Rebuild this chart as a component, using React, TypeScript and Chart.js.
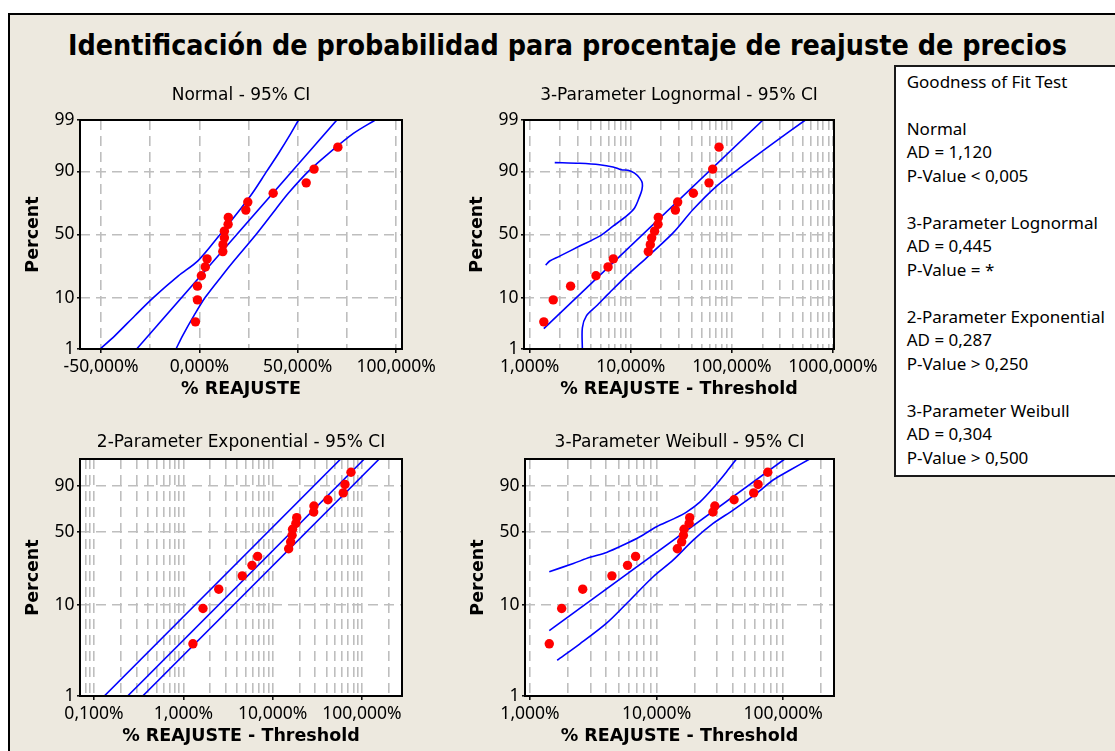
import React, { useEffect, useLayoutEffect, useRef } from 'react';
import { Chart, registerables, LinearScale } from 'chart.js';

Chart.register(...registerables);

// ---------------- DATA ----------------
const plotPercents = [3.8, 9.2, 14.7, 20.1, 25.5, 31.0, 36.4, 41.8, 47.3, 52.7, 58.2, 63.6, 69.0, 74.5, 79.9, 85.3, 90.8, 96.2];

// Normal panel (% REAJUSTE)
const normalValues = [-2.0, -1.0, -1.0, 1.0, 3.0, 3.9, 11.9, 12.0, 12.7, 12.7, 14.6, 14.7, 23.6, 24.6, 37.5, 54.3, 58.3, 70.4];
const normalFitValues = [-31.9, 69.9];
const normalFitPercents = [1, 99];
const normalBandPercents = [1, 2, 5, 10, 20, 30, 50, 70, 80, 90, 95, 98, 99];
const normalUpperBandValues = [-50.5, -42.9, -32.7, -23.4, -10.7, -0.5, 10.5, 21.0, 27.0, 34.2, 40.2, 46.5, 50.4];
const normalLowerBandValues = [-11.9, -8.5, -2.7, 2.9, 11.4, 17.8, 28.8, 39.0, 45.3, 55.4, 65.6, 78.3, 89.4];

// 3-Parameter Lognormal panel (% REAJUSTE - Threshold)
const lognormalValues = [1.38, 1.71, 2.54, 4.53, 5.96, 6.72, 14.9, 15.6, 16.1, 17.2, 18.6, 18.7, 27.6, 29.1, 41.6, 59.4, 64.6, 74.6];
const lognormalFitValues = [1.38, 203];
const lognormalFitPercents = [2.8, 99];
const lognormalUpperValues = [1.44, 1.58, 1.98, 3.12, 4.92, 6.67, 9.04, 10.9, 12.25, 12.9, 13.0, 12.25, 10.9, 9.39, 8.07, 6.67, 4.92, 3.12, 1.77];
const lognormalUpperPercents = [26.7, 29.5, 33.0, 40.7, 48.7, 56.7, 64.5, 70.5, 78.1, 81.9, 85.2, 87.4, 89.4, 90.4, 90.6, 91.5, 92.2, 92.6, 92.8];
const lognormalLowerValues = [3.32, 3.32, 3.64, 4.57, 6.18, 9.04, 14.3, 26.2, 41.3, 70.2, 119, 255, 533];
const lognormalLowerPercents = [1, 2.9, 4.9, 7.3, 11.9, 19.9, 31.8, 51.3, 69.4, 83.6, 91.1, 96.8, 99];

// 2-Parameter Exponential panel
const exponentialValues = [1.28, 1.66, 2.49, 4.57, 5.87, 6.79, 15.1, 15.9, 16.5, 16.7, 18.2, 18.6, 28.8, 29.0, 41.6, 61.7, 64.5, 75.3];
const exponentialLinePercents = [1, 99];
const exponentialUpperValues = [0.1305, 57.7];
const exponentialFitValues = [0.238, 106.2];
const exponentialLowerValues = [0.351, 156];

// 3-Parameter Weibull panel
const weibullValues = [1.42, 1.78, 2.61, 4.44, 5.90, 6.83, 14.6, 15.8, 16.3, 16.5, 18.1, 18.3, 27.9, 28.9, 41.0, 58.6, 63.5, 75.7];
const weibullFitValues = [1.42, 103];
const weibullFitPercents = [5.3, 99];
const weibullUpperValues = [1.42, 2.20, 2.98, 4.03, 5.46, 7.39, 10.0, 13.5, 17.25, 22.0, 28.0, 35.7, 42.8];
const weibullUpperPercents = [22.1, 26.6, 30.4, 33.7, 39.2, 46.0, 55.0, 62.2, 68.9, 77.9, 88.6, 96.3, 99.0];
const weibullLowerValues = [1.64, 2.48, 4.03, 5.80, 9.41, 13.5, 19.5, 28.0, 40.3, 61.6, 83.4, 112.9, 162.4];
const weibullLowerPercents = [2.5, 3.8, 6.4, 10.4, 19.7, 28.6, 43.2, 58.1, 70.7, 84.9, 93.1, 96.8, 99.0];

// Tick values and labels
const normalYTicks = [1, 10, 50, 90, 99];
const normalYLabels = ['1', '10', '50', '90', '99'];
const weibullYTicks = [1, 10, 50, 90];
const weibullYLabels = ['1', '10', '50', '90'];

const normalXTicks = [-50, -25, 0, 25, 50, 75, 100];
const normalXLabelValues = [-50, 0, 50, 100];
const normalXLabels = ['-50,000%', '0,000%', '50,000%', '100,000%'];

const lognormalXTicks = [1, 2, 3, 4, 5, 6, 7, 8, 9, 10, 20, 30, 40, 50, 60, 70, 80, 90, 100, 200, 300, 400, 500, 600, 700, 800, 900, 1000];
const lognormalXLabelValues = [1, 10, 100, 1000];
const lognormalXLabels = ['1,000%', '10,000%', '100,000%', '1000,000%'];

const exponentialXTicks = [0.08, 0.09, 0.1, 0.2, 0.3, 0.4, 0.5, 0.6, 0.7, 0.8, 0.9, 1, 2, 3, 4, 5, 6, 7, 8, 9, 10, 20, 30, 40, 50, 60, 70, 80, 90, 100, 200];
const exponentialXLabelValues = [0.1, 1, 10, 100];
const exponentialXLabels = ['0,100%', '1,000%', '10,000%', '100,000%'];

const weibullXTicks = [1, 2, 3, 4, 5, 6, 7, 8, 9, 10, 20, 30, 40, 50, 60, 70, 80, 90, 100, 200];
const weibullXLabelValues = [1, 10, 100];
const weibullXLabels = ['1,000%', '10,000%', '100,000%'];

// Goodness of fit box
const gofHeader = 'Goodness of Fit Test';
const gofNames = ['Normal', '3-Parameter Lognormal', '2-Parameter Exponential', '3-Parameter Weibull'];
const gofAD = ['1,120', '0,445', '0,287', '0,304'];
const gofP = ['< 0,005', '= *', '> 0,250', '> 0,500'];

const mainTitle = 'Identificación de probabilidad para procentaje de reajuste de precios';

// ---------------- Probability scales ----------------
function normInv(p: number): number {
  const a = [-3.969683028665376e1, 2.209460984245205e2, -2.759285104469687e2, 1.38357751867269e2, -3.066479806614716e1, 2.506628277459239];
  const b = [-5.447609879822406e1, 1.615858368580409e2, -1.556989798598866e2, 6.680131188771972e1, -1.328068155288572e1];
  const c = [-7.784894002430293e-3, -3.223964580411365e-1, -2.400758277161838, -2.549732539343734, 4.374664141464968, 2.938163982698783];
  const d = [7.784695709041462e-3, 3.224671290700398e-1, 2.445134137142996, 3.754408661907416];
  const pl = 0.02425;
  const ph = 1 - pl;
  p = Math.min(Math.max(p, 1e-9), 1 - 1e-9);
  if (p < pl) {
    const q = Math.sqrt(-2 * Math.log(p));
    return (((((c[0] * q + c[1]) * q + c[2]) * q + c[3]) * q + c[4]) * q + c[5]) / ((((d[0] * q + d[1]) * q + d[2]) * q + d[3]) * q + 1);
  }
  if (p <= ph) {
    const q = p - 0.5;
    const r = q * q;
    return ((((((a[0] * r + a[1]) * r + a[2]) * r + a[3]) * r + a[4]) * r + a[5]) * q) / (((((b[0] * r + b[1]) * r + b[2]) * r + b[3]) * r + b[4]) * r + 1);
  }
  const q = Math.sqrt(-2 * Math.log(1 - p));
  return -(((((c[0] * q + c[1]) * q + c[2]) * q + c[3]) * q + c[4]) * q + c[5]) / ((((d[0] * q + d[1]) * q + d[2]) * q + d[3]) * q + 1);
}

class NormalProbabilityScale extends LinearScale {
  static id = 'normalProbability';
  static defaults = {};
  tf(v: number) {
    return normInv(v / 100);
  }
  determineDataLimits() {
    (this as any).min = (this as any).options.min;
    (this as any).max = (this as any).options.max;
  }
  buildTicks() {
    return [];
  }
  getPixelForValue(value: number) {
    const a = this.tf((this as any).min);
    const b = this.tf((this as any).max);
    return (this as any).getPixelForDecimal((this.tf(value) - a) / (b - a));
  }
  getValueForPixel(_pixel: number) {
    return (this as any).min;
  }
}

class WeibullProbabilityScale extends NormalProbabilityScale {
  static id = 'weibullProbability';
  static defaults = {};
  tf(v: number) {
    const p = Math.min(Math.max(v / 100, 1e-9), 1 - 1e-9);
    return Math.log10(-Math.log(1 - p));
  }
}

Chart.register(NormalProbabilityScale as any, WeibullProbabilityScale as any);

// ---------------- Layout / styling ----------------
const BG = '#EDE9DF';
const GRID = '#BEBEBE';
const BLUE = '#0000FF';
const RED = '#FF0000';
const Y_AXIS_W = 72;
const TOP_M = 50;
const BOTTOM_M = 50;
const RIGHT_M = 50;
const TICK_FONT = { family: "'Noto Sans', 'DejaVu Sans', sans-serif", size: 17.5 };
const AXIS_TITLE_FONT = { family: "'DejaVu Sans', sans-serif", size: 17.5, weight: 'bold' as const, lineHeight: 1 };
const SUBTITLE_FONT = { family: "'DejaVu Sans', sans-serif", size: 17, weight: 'normal' as const };

const framePlugin = {
  id: 'plotFrame',
  beforeDraw(chart: any) {
    const { ctx, chartArea: a } = chart;
    ctx.save();
    ctx.fillStyle = '#FFFFFF';
    ctx.fillRect(a.left, a.top, a.right - a.left, a.bottom - a.top);
    ctx.restore();
  },
  afterDraw(chart: any) {
    const { ctx, chartArea: a } = chart;
    ctx.save();
    ctx.strokeStyle = '#000000';
    ctx.lineWidth = 2;
    ctx.strokeRect(a.left, a.top, a.right - a.left, a.bottom - a.top);
    ctx.restore();
  },
};

type Line = { xs: number[]; ps: number[]; tension?: number };

type PanelSpec = {
  plot: { l: number; t: number; r: number; b: number };
  subY: number;
  title: string;
  xTitle: string;
  xType: 'linear' | 'logarithmic';
  xMin: number;
  xMax: number;
  xTicks: number[];
  xLabelValues: number[];
  xLabels: string[];
  yType: 'normalProbability' | 'weibullProbability';
  yTicks: number[];
  yLabels: string[];
  pointsX: number[];
  lines: Line[];
};

const panels: PanelSpec[] = [
  {
    plot: { l: 80, t: 120, r: 402, b: 349 },
    subY: 95.5,
    title: 'Normal - 95% CI',
    xTitle: '% REAJUSTE',
    xType: 'linear',
    xMin: -60.7,
    xMax: 103,
    xTicks: normalXTicks,
    xLabelValues: normalXLabelValues,
    xLabels: normalXLabels,
    yType: 'normalProbability',
    yTicks: normalYTicks,
    yLabels: normalYLabels,
    pointsX: normalValues,
    lines: [
      { xs: normalFitValues, ps: normalFitPercents },
      { xs: normalUpperBandValues, ps: normalBandPercents, tension: 0.3 },
      { xs: normalLowerBandValues, ps: normalBandPercents, tension: 0.3 },
    ],
  },
  {
    plot: { l: 524, t: 120, r: 834, b: 349 },
    subY: 95.5,
    title: '3-Parameter Lognormal - 95% CI',
    xTitle: '% REAJUSTE - Threshold',
    xType: 'logarithmic',
    xMin: 0.879,
    xMax: 1023,
    xTicks: lognormalXTicks,
    xLabelValues: lognormalXLabelValues,
    xLabels: lognormalXLabels,
    yType: 'normalProbability',
    yTicks: normalYTicks,
    yLabels: normalYLabels,
    pointsX: lognormalValues,
    lines: [
      { xs: lognormalFitValues, ps: lognormalFitPercents },
      { xs: lognormalUpperValues, ps: lognormalUpperPercents, tension: 0.3 },
      { xs: lognormalLowerValues, ps: lognormalLowerPercents, tension: 0.3 },
    ],
  },
  {
    plot: { l: 80, t: 459, r: 402, b: 696 },
    subY: 442.5,
    title: '2-Parameter Exponential - 95% CI',
    xTitle: '% REAJUSTE - Threshold',
    xType: 'logarithmic',
    xMin: 0.0697,
    xMax: 280.5,
    xTicks: exponentialXTicks,
    xLabelValues: exponentialXLabelValues,
    xLabels: exponentialXLabels,
    yType: 'weibullProbability',
    yTicks: weibullYTicks,
    yLabels: weibullYLabels,
    pointsX: exponentialValues,
    lines: [
      { xs: exponentialUpperValues, ps: exponentialLinePercents },
      { xs: exponentialFitValues, ps: exponentialLinePercents },
      { xs: exponentialLowerValues, ps: exponentialLinePercents },
    ],
  },
  {
    plot: { l: 525, t: 459, r: 834, b: 696 },
    subY: 442.5,
    title: '3-Parameter Weibull - 95% CI',
    xTitle: '% REAJUSTE - Threshold',
    xType: 'logarithmic',
    xMin: 0.913,
    xMax: 252.7,
    xTicks: weibullXTicks,
    xLabelValues: weibullXLabelValues,
    xLabels: weibullXLabels,
    yType: 'weibullProbability',
    yTicks: weibullYTicks,
    yLabels: weibullYLabels,
    pointsX: weibullValues,
    lines: [
      { xs: weibullFitValues, ps: weibullFitPercents },
      { xs: weibullUpperValues, ps: weibullUpperPercents, tension: 0.3 },
      { xs: weibullLowerValues, ps: weibullLowerPercents, tension: 0.3 },
    ],
  },
];

function canvasRect(spec: PanelSpec) {
  const { l, t, r, b } = spec.plot;
  return { left: l - Y_AXIS_W, top: t - TOP_M, width: r - l + Y_AXIS_W + RIGHT_M, height: b - t + TOP_M + BOTTOM_M };
}

function buildConfig(spec: PanelSpec): any {
  const rect = canvasRect(spec);
  const subLH = SUBTITLE_FONT.size * 1.2;
  const subPadTop = spec.subY - rect.top - subLH / 2;
  const subPadBottom = TOP_M - subLH - subPadTop;

  const datasets: any[] = [
    {
      label: 'data',
      data: spec.pointsX.map((x, i) => ({ x, y: plotPercents[i] })),
      showLine: false,
      pointRadius: 4.7,
      pointBackgroundColor: RED,
      pointBorderWidth: 0,
      pointBorderColor: RED,
    },
    ...spec.lines.map((ln, k) => ({
      label: 'line' + k,
      data: ln.xs.map((x, i) => ({ x, y: ln.ps[i] })),
      showLine: true,
      pointRadius: 0,
      borderColor: BLUE,
      borderWidth: 1.6,
      tension: ln.tension ?? 0,
      fill: false,
    })),
  ];

  const isLabelled = (v: number) => spec.xLabelValues.some((lv) => Math.abs(lv - v) < 1e-9);

  return {
    type: 'scatter',
    data: { datasets },
    plugins: [framePlugin],
    options: {
      animation: false,
      responsive: false,
      maintainAspectRatio: false,
      events: [],
      layout: { padding: { left: 0, right: RIGHT_M, top: 0, bottom: 0 } },
      plugins: {
        legend: { display: false },
        tooltip: { enabled: false },
        title: {
          display: true,
          text: spec.title,
          fullSize: false,
          color: '#000000',
          font: SUBTITLE_FONT,
          padding: { top: subPadTop, bottom: subPadBottom },
        },
      },
      scales: {
        x: {
          type: spec.xType,
          position: 'bottom',
          min: spec.xMin,
          max: spec.xMax,
          bounds: 'data',
          afterBuildTicks: (scale: any) => {
            scale.ticks = spec.xTicks.map((v) => ({ value: v }));
          },
          afterFit: (scale: any) => {
            scale.height = BOTTOM_M;
          },
          ticks: {
            autoSkip: false,
            maxRotation: 0,
            minRotation: 0,
            color: '#000000',
            font: TICK_FONT,
            padding: 3.5,
            callback: (v: number) => {
              const idx = spec.xLabelValues.findIndex((lv) => Math.abs(lv - v) < 1e-9);
              return idx >= 0 ? spec.xLabels[idx] : '';
            },
          },
          grid: {
            color: GRID,
            lineWidth: 1.6,
            drawTicks: true,
            tickLength: 4,
            tickWidth: 1.5,
            tickColor: (ctx: any) => (ctx.tick && isLabelled(ctx.tick.value) ? '#000000' : 'rgba(0,0,0,0)'),
          },
          border: { display: false, dash: [10, 6] },
          title: {
            display: true,
            text: spec.xTitle,
            color: '#000000',
            font: AXIS_TITLE_FONT,
            padding: { top: 0, bottom: 0.5 },
          },
        },
        y: {
          type: spec.yType,
          position: 'left',
          min: 1,
          max: 99,
          afterBuildTicks: (scale: any) => {
            scale.ticks = spec.yTicks.map((v) => ({ value: v }));
          },
          afterFit: (scale: any) => {
            scale.width = Y_AXIS_W;
          },
          ticks: {
            autoSkip: false,
            color: '#000000',
            font: TICK_FONT,
            padding: 2.5,
            callback: (_v: number, i: number) => spec.yLabels[i],
          },
          grid: {
            color: GRID,
            lineWidth: 1.6,
            drawTicks: true,
            tickLength: 3,
            tickWidth: 1.5,
            tickColor: '#000000',
          },
          border: { display: false, dash: [10, 6] },
          title: {
            display: true,
            text: 'Percent',
            color: '#000000',
            font: AXIS_TITLE_FONT,
            padding: { top: 17, bottom: 0 },
          },
        },
      },
    },
  };
}

function Panel({ spec }: { spec: PanelSpec }) {
  const ref = useRef<HTMLCanvasElement>(null);
  const rect = canvasRect(spec);
  useEffect(() => {
    if (!ref.current) return;
    const chart = new Chart(ref.current, buildConfig(spec));
    return () => chart.destroy();
  }, [spec]);
  return (
    <canvas
      ref={ref}
      width={rect.width}
      height={rect.height}
      style={{ position: 'absolute', left: rect.left, top: rect.top, width: rect.width, height: rect.height }}
    />
  );
}

const TITLE_LEFT = 68;
const TITLE_WIDTH = 999;

export default function App() {
  const titleRef = useRef<HTMLSpanElement>(null);

  useLayoutEffect(() => {
    const el = titleRef.current;
    if (!el) return;
    el.style.transform = 'none';
    const w = el.getBoundingClientRect().width;
    if (w > 0) el.style.transform = `scaleX(${TITLE_WIDTH / w})`;
  }, []);

  const gofLines: string[] = [gofHeader];
  gofNames.forEach((n, i) => {
    gofLines.push('');
    gofLines.push(n);
    gofLines.push('AD = ' + gofAD[i]);
    gofLines.push('P-Value ' + gofP[i]);
  });

  return (
    <div style={{ position: 'fixed', left: 0, top: 0, width: 1115, height: 751, background: '#FFFFFF', overflow: 'hidden' }}>
      <div
        style={{
          position: 'absolute',
          left: 8,
          top: 13,
          width: 1115 - 8 + 10,
          height: 751 - 13 + 10,
          boxSizing: 'border-box',
          background: BG,
          borderLeft: '2px solid #000',
          borderTop: '2px solid #000',
        }}
      />
      <div style={{ position: 'absolute', left: TITLE_LEFT, top: 31.7, whiteSpace: 'nowrap', lineHeight: 1 }}>
        <span
          ref={titleRef}
          style={{
            display: 'inline-block',
            fontFamily: "'DejaVu Sans', sans-serif",
            fontWeight: 'bold',
            fontSize: 28,
            lineHeight: 1,
            color: '#000',
            transformOrigin: 'left top',
          }}
        >
          {mainTitle}
        </span>
      </div>
      {panels.map((p, i) => (
        <Panel key={i} spec={p} />
      ))}
      <div
        style={{
          position: 'absolute',
          left: 894,
          top: 65,
          width: 240,
          height: 412,
          boxSizing: 'border-box',
          background: '#FFFFFF',
          border: '2px solid #1A1A1A',
          paddingLeft: 10.7,
          paddingTop: 2.6,
          fontFamily: "'Noto Sans', 'DejaVu Sans', sans-serif",
          fontSize: 17,
          lineHeight: '23.5px',
          color: '#000',
          whiteSpace: 'pre',
        }}
      >
        {gofLines.map((t, i) => (
          <div key={i} style={{ height: 23.5 }}>
            {t === '' ? '\u00A0' : t}
          </div>
        ))}
      </div>
    </div>
  );
}
